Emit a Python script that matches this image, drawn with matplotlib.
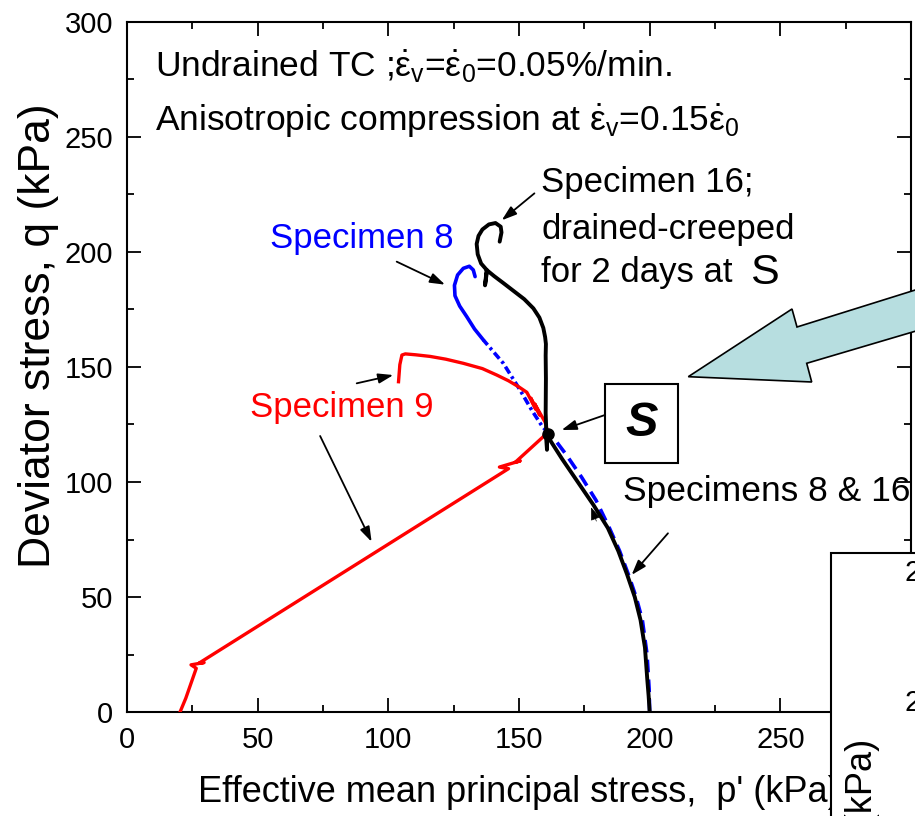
import matplotlib
matplotlib.use("Agg")
import matplotlib.pyplot as plt
from matplotlib.ticker import MultipleLocator
from matplotlib.patches import Polygon, Rectangle

plt.rcParams['font.family'] = ['Liberation Sans', 'DejaVu Sans']
plt.rcParams['mathtext.fontset'] = 'custom'
plt.rcParams['mathtext.rm'] = 'Liberation Sans'
plt.rcParams['mathtext.it'] = 'Liberation Sans:italic'
plt.rcParams['mathtext.bf'] = 'Liberation Sans:bold'

# ---------------- data (p', q) in kPa ----------------
spec16_p = [200, 199.6, 199.1, 198.2, 196.5, 194.3, 191.3, 188.0, 184.0, 178.5, 172.5,
            166.5, 162.0, 160.5,
            160.7, 160.2, 160.3, 160.2, 160.3, 160.0, 159.3, 157.8, 155.5, 152.0, 148.0,
            144.0, 140.5, 137.6, 137.0, 137.8, 135.5, 134.2, 133.8, 134.5, 136.0,
            138.5, 141.0, 143.0, 143.3, 142.6]
spec16_q = [0, 7, 14, 28, 40, 50, 60, 70, 80, 90, 100,
            110, 118, 121,
            114, 130, 145, 155, 160, 163, 167, 171.5, 175.5, 179.5, 183,
            186.5, 189.5, 192.2, 185.5, 192.0, 195, 199, 203.5, 207, 209.8,
            212, 212.6, 211, 208.5, 204.5]

spec8_dash_p = [200, 199.8, 199.0, 197.2, 194.8, 191.8, 188.5, 184.6, 179.5, 174.0,
                168.0, 164.0, 161.5]
spec8_dash_q = [0, 10, 25, 40, 50, 60, 70, 80, 92, 102,
                112, 118, 121]
spec8_dot_p = [161.5, 159.0, 155.0, 150.4, 144.0, 136.4]
spec8_dot_q = [121, 124, 131, 140, 151.6, 161.7]
spec8_solid_p = [136.4, 133.0, 130.0, 127.3, 125.5, 125.3, 126.5, 128.7, 131.0, 132.5, 133.2]
spec8_solid_q = [161.7, 166.5, 171.9, 176.5, 181.0, 185.5, 190.0, 192.9, 193.8, 192.2, 189.3]

spec9_p = [20.3, 22.5, 24.5, 26.5, 24.5, 29.5, 27.5, 146.0, 142.5, 150.5, 148.5, 159.3,
           160.8, 160.0, 158.0, 156.0, 158.0, 154.5, 156.5, 153.0, 150.0, 146.0,
           141.5, 136.0, 128.7, 122.0, 116.0, 110.5, 106.5, 105.2, 104.4, 103.9]
spec9_q = [0, 6, 12.5, 19, 20.5, 21.5, 21.2, 105.8, 106.5, 109.2, 108.5, 119.7,
           122.5, 126, 130, 134, 129, 136.5, 131.5, 139, 141.3, 144,
           146.5, 149.3, 151.6, 153.4, 154.6, 155.3, 155.7, 155.2, 151.0, 143.6]

point_S = (161.0, 121.0)

# ---------------- figure ----------------
W, H = 915, 816
fig = plt.figure(figsize=(W / 100, H / 100), dpi=100)
ax = fig.add_axes([127 / W, 104 / H, (911 - 127) / W, (712 - 22) / H])

ax.plot(spec8_dash_p, spec8_dash_q, color='#0000ff', lw=2.6, dashes=(3.5, 2.0), zorder=2)
ax.plot(spec8_dot_p, spec8_dot_q, color='#0000ff', lw=2.6, dashes=(2.2, 1.0, 0.8, 1.0), zorder=2)
ax.plot(spec8_solid_p, spec8_solid_q, color='#0000ff', lw=2.6, zorder=2,
        solid_capstyle='round', solid_joinstyle='round')
ax.plot(spec9_p, spec9_q, color='#ff0000', lw=2.4, zorder=3, solid_joinstyle='round')
ax.plot(spec16_p, spec16_q, color='black', lw=2.8, zorder=4, solid_joinstyle='round',
        solid_capstyle='round')
ax.plot([point_S[0]], [point_S[1]], 'o', color='black', ms=8, zorder=5)

ax.set_xlim(0, 300)
ax.set_ylim(0, 300)
ax.xaxis.set_major_locator(MultipleLocator(50))
ax.yaxis.set_major_locator(MultipleLocator(50))
ax.xaxis.set_minor_locator(MultipleLocator(25))
ax.yaxis.set_minor_locator(MultipleLocator(25))
ax.tick_params(which='both', direction='in', top=True, right=True, width=1.3)
ax.tick_params(which='major', length=10, labelsize=21, pad=10)
ax.tick_params(which='minor', length=5)
for s in ax.spines.values():
    s.set_linewidth(1.5)

ax.set_xlabel("Effective mean principal stress,  p' (kPa)", fontsize=26)
ax.xaxis.set_label_coords(0.5, -0.117)
ax.xaxis.label.set_va('center')
ax.set_ylabel("Deviator stress, q (kPa)", fontsize=32)
ax.yaxis.set_label_coords(-0.113, 0.545)
ax.yaxis.label.set_va('center')

# ---------------- texts ----------------
ax.text(10.7, 280.4, r'Undrained TC ;$\dot{\mathrm{\varepsilon}}_\mathrm{v}$=$\dot{\mathrm{\varepsilon}}_\mathrm{0}$=0.05%/min.',
        fontsize=25.5, ha='left', va='center')
ax.text(10.7, 257.0, r'Anisotropic compression at $\dot{\mathrm{\varepsilon}}_\mathrm{v}$=0.15$\dot{\mathrm{\varepsilon}}_\mathrm{0}$',
        fontsize=25.5, ha='left', va='center')

ax.text(47.0, 132.6, 'Specimen 9', color='#ff0000', fontsize=25, ha='left', va='center')
ax.text(54.7, 206.0, 'Specimen 8', color='#0000ff', fontsize=25, ha='left', va='center')
ax.text(158.6, 230.0, 'Specimen 16;', fontsize=25, ha='left', va='center')
ax.text(158.6, 209.6, 'drained-creeped', fontsize=25, ha='left', va='center')
ax.text(158.6, 190.9, 'for 2 days at', fontsize=25, ha='left', va='center')
ax.text(238.5, 190.9, 'S', fontsize=31, ha='left', va='center')
ax.text(189.8, 95.8, 'Specimens 8 & 16', fontsize=25.5, ha='left', va='center', clip_on=False)

# S box
ax.add_patch(Rectangle((182.8, 108.1), 28.1, 34.5, fill=False, lw=1.5, ec='black', zorder=6))
ax.text(196.85, 125.4, 'S', fontsize=35, fontweight='bold', fontstyle='italic',
        ha='center', va='center', zorder=7)

# annotation arrows
arrows = [((73.9, 120.0), (93.6, 74.0)),
          ((87.9, 142.9), (101.9, 146.5)),
          ((103.2, 195.8), (121.7, 185.8)),
          ((155.9, 225.5), (143.4, 213.8)),
          ((182.8, 129.1), (166.3, 122.6)),
          ((207.0, 77.7), (193.1, 59.6))]
for (x0, y0), (x1, y1) in arrows:
    ax.annotate('', xy=(x1, y1), xytext=(x0, y0),
                arrowprops=dict(arrowstyle='-|>,head_length=0.9,head_width=0.3',
                                color='black', lw=1.3, shrinkA=0, shrinkB=0),
                zorder=6)
# direction arrow on the black path
ax.annotate('', xy=(177.6, 89.0), xytext=(179.6, 83.0),
            arrowprops=dict(arrowstyle='-|>,head_length=0.8,head_width=0.3',
                            color='black', lw=0.5, shrinkA=0, shrinkB=0), zorder=6)

# ---------------- big teal arrow (overlay) ----------------
def fp(x, y):
    return (x / W, 1 - y / H)

arrow_pts = [fp(688.3, 376.7), fp(792.0, 309.0), fp(797.0, 327.0), fp(960, 276.0),
             fp(960, 318.0), fp(806.7, 363.3), fp(811.7, 382.0)]
fig.add_artist(Polygon(arrow_pts, closed=True, facecolor='#b7dee0', edgecolor='black',
                       lw=1.2, transform=fig.transFigure, zorder=10))

# ---------------- partially visible inset (overlay) ----------------
fig.add_artist(Rectangle(fp(831, 900), 0.3, (900 - 553) / H, transform=fig.transFigure,
                         facecolor='white', edgecolor='black', lw=1.5, zorder=11))
fig.text(904 / W, 1 - 573 / H, '250', fontsize=21, ha='left', va='center', zorder=12)
fig.text(904 / W, 1 - 703 / H, '200', fontsize=21, ha='left', va='center', zorder=12)
fig.text(863 / W, 1 - 739 / H, 'Deviator stress, q (kPa)', fontsize=26, rotation=90,
         ha='center', va='top', zorder=12)

fig.savefig('out.png', dpi=100)
